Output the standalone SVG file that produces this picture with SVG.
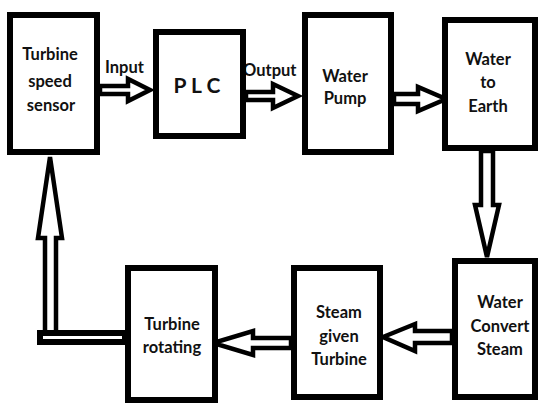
<svg xmlns="http://www.w3.org/2000/svg" width="539" height="403" viewBox="0 0 539 403">
<style>
.box{fill:#fff;stroke:#000;stroke-width:6}
.arr{fill:#fff;stroke:#000;stroke-width:4.5;stroke-linejoin:miter}
.bar{fill:#fff;stroke:#000;stroke-width:6}
text{font-family:Lato,"Liberation Sans",sans-serif;font-weight:bold;font-size:16.5px;fill:#111;text-anchor:middle}
.big{font-size:21px}
.lbl{text-anchor:start}
</style>
<rect width="539" height="403" fill="#fff"/>
<g id="connectors">
<polygon class="arr" points="100,86 128,86 128,79 150,90 128,101 128,94 100,94"/>
<polygon class="arr" points="246,92 273,92 273,84 298,96 273,108 273,100 246,100"/>
<polygon class="arr" points="394,94 418,94 418,87 446,99 418,111 418,104 394,104"/>
<polygon class="arr" points="481,151 481,205 475,205 487,257 499,205 493,205 493,151"/>
<polygon class="arr" points="452,331 415,331 415,324 383,337 415,351 415,343 452,343"/>
<polygon class="arr" points="291,338 253,338 253,331 213,343 253,355 253,348 291,348"/>
<polygon class="arr" points="50,157 62,238 56,238 56,334 45,334 45,238 38,238"/>
<rect class="bar" x="40" y="333" width="85" height="9"/>
<text class="lbl" x="105" y="73">Input</text>
<text class="lbl" x="243" y="76">Output</text>
</g>
<g id="sensor">
<rect class="box" x="10" y="15" width="87" height="137"/>
<text x="50" y="60">Turbine</text>
<text x="50" y="87">speed</text>
<text x="51" y="111">sensor</text>
</g>
<g id="plc">
<rect class="box" x="156" y="32" width="87" height="104"/>
<text class="big" x="197" y="93">P L C</text>
</g>
<g id="pump">
<rect class="box" x="305" y="15" width="86" height="137"/>
<text x="345" y="82">Water</text>
<text x="345" y="104">Pump</text>
</g>
<g id="earth">
<rect class="box" x="445" y="20" width="90" height="128"/>
<text x="488" y="65">Water</text>
<text x="488" y="88">to</text>
<text x="488" y="112">Earth</text>
</g>
<g id="convert">
<rect class="box" x="455" y="261" width="80" height="136"/>
<text x="500" y="308">Water</text>
<text x="500" y="332">Convert</text>
<text x="500" y="355">Steam</text>
</g>
<g id="steam">
<rect class="box" x="294" y="268" width="86" height="129"/>
<text x="339" y="318">Steam</text>
<text x="339" y="342">given</text>
<text x="339" y="365">Turbine</text>
</g>
<g id="rotating">
<rect class="box" x="128" y="268" width="87" height="132"/>
<text x="172" y="330">Turbine</text>
<text x="172" y="353">rotating</text>
</g>
</svg>
